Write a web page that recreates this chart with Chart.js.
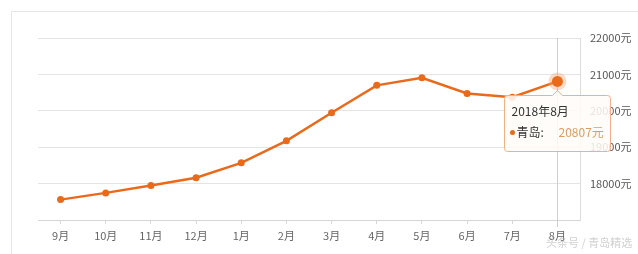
<!DOCTYPE html>
<html>
<head>
<meta charset="utf-8">
<script src="https://cdn.jsdelivr.net/npm/chart.js@4"></script>
<style>
  body { margin: 0; background: #fff; }
  #wrap { width: 638px; height: 254px; position: relative; }
</style>
</head>
<body>
<div id="wrap"><canvas id="priceChart"></canvas></div>
<script>
// monthly average price, Qingdao
const months = ['9月', '10月', '11月', '12月', '1月', '2月', '3月', '4月', '5月', '6月', '7月', '8月'];
const prices = [17560, 17745, 17950, 18160, 18570, 19175, 19945, 20700, 20905, 20475, 20375, 20807];
const seriesName = '青岛';
const activeTitle = '2018年8月';
const activeIndex = 11;
const yTicks = [17000, 18000, 19000, 20000, 21000, 22000];

const orange = '#e96a1b';
const font = '"Noto Sans CJK SC", "Noto Sans", sans-serif';

// outer frame of the widget
const framePlugin = {
  id: 'frame',
  beforeDraw(chart) {
    const ctx = chart.ctx;
    ctx.save();
    ctx.strokeStyle = '#e6e6e6';
    ctx.lineWidth = 1;
    ctx.beginPath();
    ctx.moveTo(11.5, 260);
    ctx.lineTo(11.5, 11.5);
    ctx.lineTo(640, 11.5);
    ctx.stroke();
    ctx.restore();
  }
};

// vertical hover line
const crosshair = {
  id: 'crosshair',
  beforeDatasetsDraw(chart) {
    const { ctx, chartArea } = chart;
    const pt = chart.getDatasetMeta(0).data[activeIndex];
    const x = Math.round(pt.x) + 0.5;
    ctx.save();
    ctx.strokeStyle = '#cfcfcf';
    ctx.lineWidth = 1;
    ctx.beginPath();
    ctx.moveTo(x, chartArea.top);
    ctx.lineTo(x, chartArea.bottom + 7);
    ctx.stroke();
    ctx.restore();
  }
};

// halo on hovered point + tooltip box
const hoverTip = {
  id: 'hoverTip',
  afterDatasetsDraw(chart) {
    const ctx = chart.ctx;
    const pt = chart.getDatasetMeta(0).data[activeIndex];
    const px = pt.x, py = pt.y;

    ctx.save();
    ctx.fillStyle = 'rgba(245, 165, 110, 0.4)';
    ctx.beginPath();
    ctx.arc(px, py, 9, 0, Math.PI * 2);
    ctx.fill();
    ctx.fillStyle = orange;
    ctx.beginPath();
    ctx.arc(px, py, 5.5, 0, Math.PI * 2);
    ctx.fill();

    // box
    const w = 106, h = 56, r = 3;
    const bx = Math.round(px - 53) + 0.5;
    const by = Math.round(py + 14) + 0.5;
    const tipY = by - 5;
    ctx.beginPath();
    ctx.moveTo(bx + r, by);
    ctx.lineTo(px - 5, by);
    ctx.lineTo(px, tipY);
    ctx.lineTo(px + 5, by);
    ctx.lineTo(bx + w - r, by);
    ctx.quadraticCurveTo(bx + w, by, bx + w, by + r);
    ctx.lineTo(bx + w, by + h - r);
    ctx.quadraticCurveTo(bx + w, by + h, bx + w - r, by + h);
    ctx.lineTo(bx + r, by + h);
    ctx.quadraticCurveTo(bx, by + h, bx, by + h - r);
    ctx.lineTo(bx, by + r);
    ctx.quadraticCurveTo(bx, by, bx + r, by);
    ctx.closePath();
    ctx.fillStyle = 'rgba(255, 252, 248, 0.86)';
    ctx.fill();
    ctx.strokeStyle = '#eeb084';
    ctx.lineWidth = 1;
    ctx.stroke();

    // text
    ctx.textBaseline = 'middle';
    ctx.textAlign = 'left';
    ctx.font = '12px ' + font;
    ctx.fillStyle = '#333';
    ctx.fillText(activeTitle, bx + 7, by + 16);

    ctx.fillStyle = orange;
    ctx.beginPath();
    ctx.arc(bx + 8, by + 37, 2.5, 0, Math.PI * 2);
    ctx.fill();
    ctx.fillStyle = '#333';
    ctx.fillText(seriesName + ':', bx + 12, by + 37);
    ctx.fillStyle = '#dc9d5e';
    ctx.fillText(prices[activeIndex] + '元', bx + 54, by + 37);

    // watermark
    ctx.font = '11px ' + font;
    ctx.fillStyle = 'rgba(170, 170, 170, 0.55)';
    ctx.fillText('头条号 / 青岛精选', 546, 243);
    ctx.restore();
  }
};

new Chart(document.getElementById('priceChart'), {
  type: 'line',
  data: {
    labels: months,
    datasets: [{
      label: seriesName,
      data: prices,
      borderColor: orange,
      backgroundColor: orange,
      borderWidth: 2.5,
      pointRadius: 3.5,
      pointBorderWidth: 0,
      pointBackgroundColor: orange,
      tension: 0,
      fill: false
    }]
  },
  plugins: [framePlugin, crosshair, hoverTip],
  options: {
    responsive: true,
    maintainAspectRatio: false,
    animation: false,
    events: [],
    layout: {
      padding: { top: 38, left: 38, right: 0, bottom: 0 }
    },
    plugins: {
      legend: { display: false },
      title: { display: false },
      tooltip: { enabled: false }
    },
    scales: {
      x: {
        offset: true,
        afterFit(scale) { scale.height = 34; },
        border: { color: '#d6d6d6', width: 1 },
        grid: {
          offset: false,
          drawOnChartArea: false,
          drawTicks: true,
          tickLength: 4,
          color: '#d6d6d6'
        },
        ticks: {
          color: '#666',
          padding: 5,
          maxRotation: 0,
          font: { family: font, size: 11 }
        }
      },
      y: {
        position: 'right',
        min: 17000,
        max: 22000,
        afterFit(scale) { scale.width = 58; },
        afterBuildTicks(scale) {
          scale.ticks = yTicks.map(v => ({ value: v }));
        },
        border: { color: '#dcdcdc', width: 1 },
        grid: {
          color: '#e4e4e4',
          drawTicks: false
        },
        ticks: {
          color: '#555',
          padding: 10,
          font: { family: font, size: 11 },
          callback: v => (v === 17000 ? '' : v + '元')
        }
      }
    }
  }
});
</script>
</body>
</html>
